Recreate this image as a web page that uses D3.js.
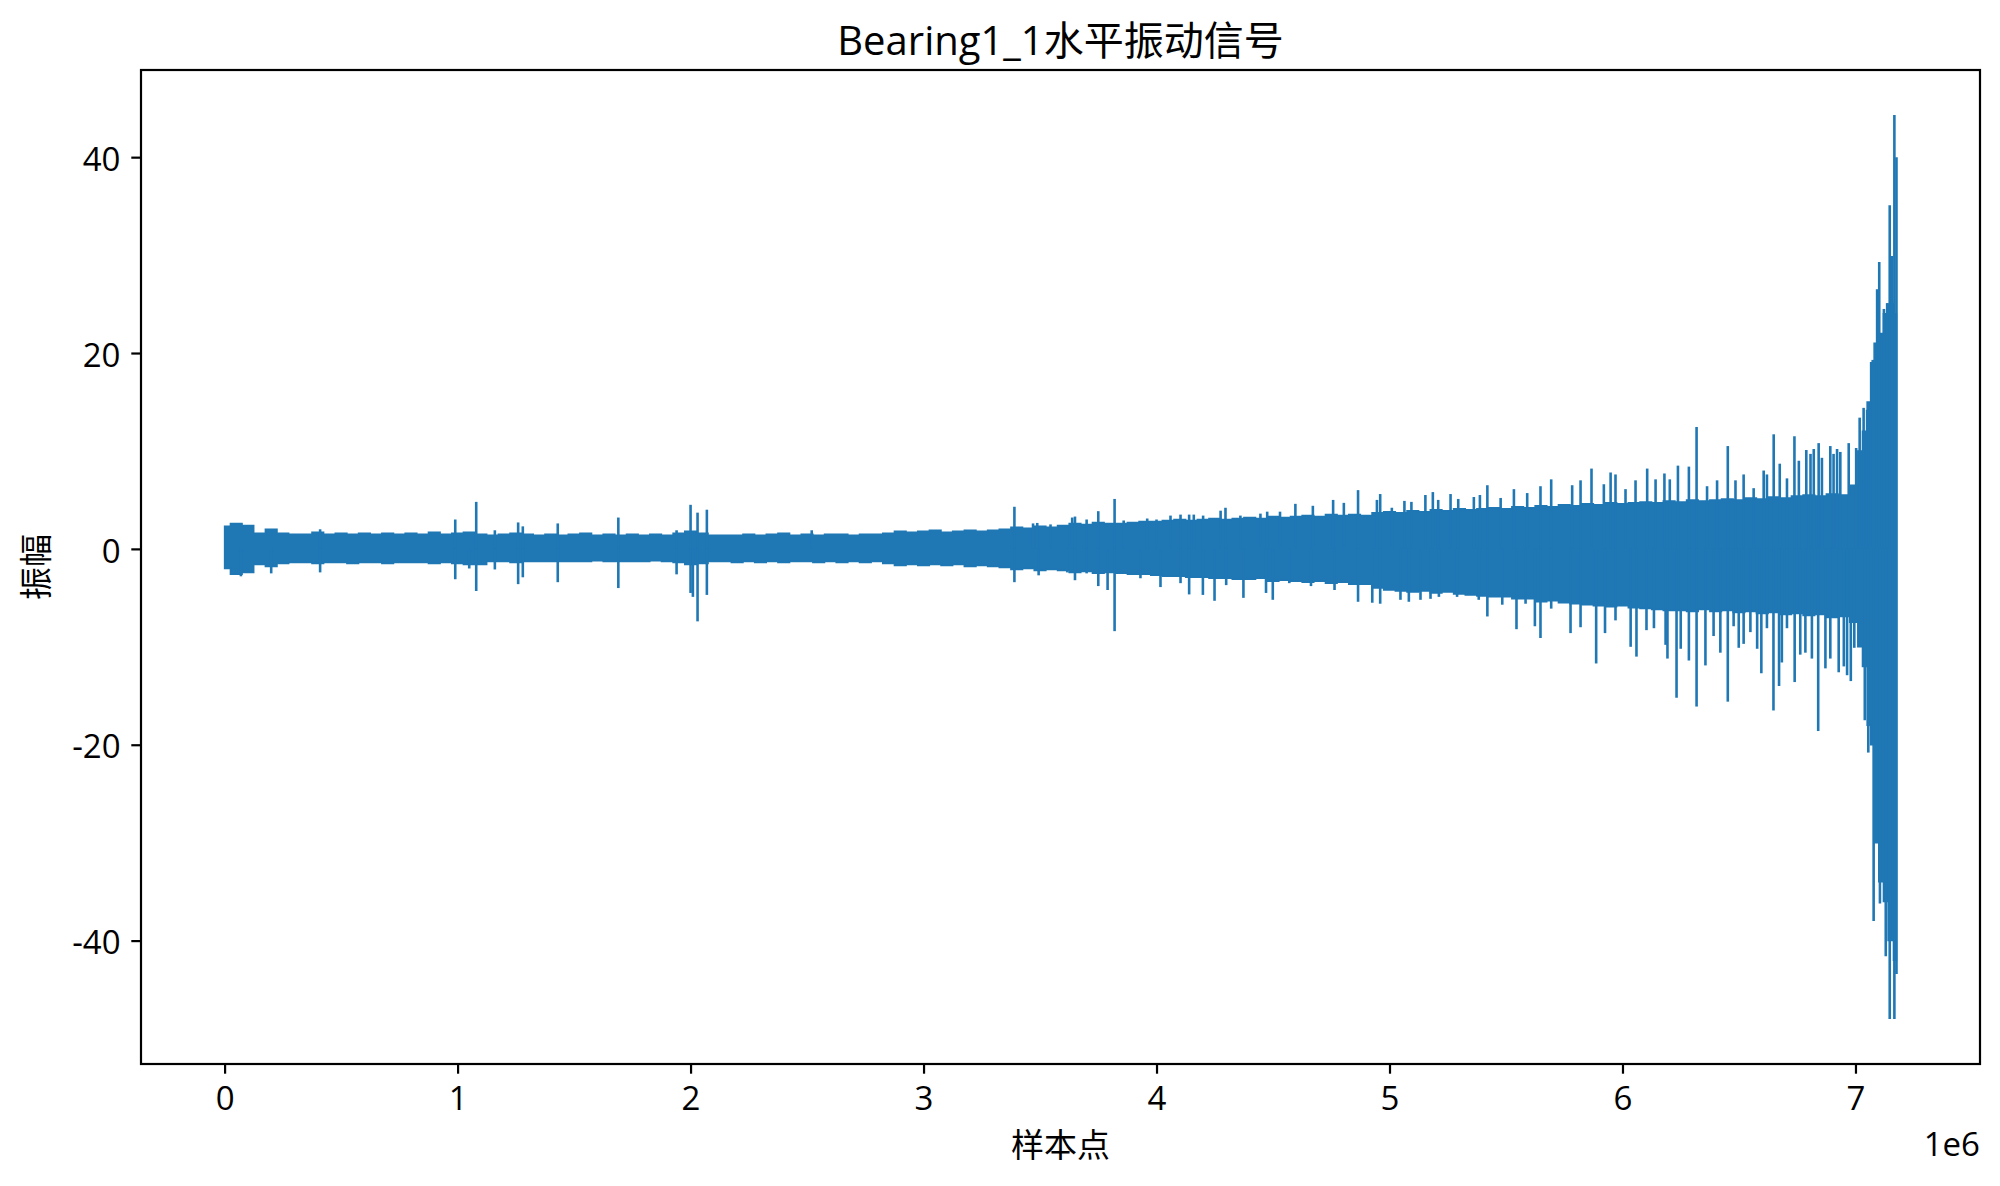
<!DOCTYPE html>
<html>
<head>
<meta charset="utf-8">
<script src="https://cdn.jsdelivr.net/npm/d3@7"></script>
<style>
  html, body { margin: 0; padding: 0; background: #fff; }
  svg { display: block; }
  text { font-family: "Open Sans", "Noto Sans CJK SC", sans-serif; fill: #000; }
</style>
</head>
<body>
<svg id="chart"></svg>
<script>
// sample index in units of 1e6, dense band envelope (upper / lower)
const envX = [
  0.00, 0.05, 0.10, 0.15, 0.20, 0.25, 0.30, 0.35, 0.40, 0.45,
  0.50, 0.55, 0.60, 0.65, 0.70, 0.75, 0.80, 0.85, 0.90, 0.95,
  1.00, 1.05, 1.10, 1.15, 1.20, 1.25, 1.30, 1.35, 1.40, 1.45,
  1.50, 1.55, 1.60, 1.65, 1.70, 1.75, 1.80, 1.85, 1.90, 1.95,
  2.00, 2.05, 2.10, 2.15, 2.20, 2.25, 2.30, 2.35, 2.40, 2.45,
  2.50, 2.55, 2.60, 2.65, 2.70, 2.75, 2.80, 2.85, 2.90, 2.95,
  3.00, 3.05, 3.10, 3.15, 3.20, 3.25, 3.30, 3.35, 3.40, 3.45,
  3.50, 3.55, 3.60, 3.65, 3.70, 3.75, 3.80, 3.85, 3.90, 3.95,
  4.00, 4.05, 4.10, 4.15, 4.20, 4.25, 4.30, 4.35, 4.40, 4.45,
  4.50, 4.55, 4.60, 4.65, 4.70, 4.75, 4.80, 4.85, 4.90, 4.95,
  5.00, 5.05, 5.10, 5.15, 5.20, 5.25, 5.30, 5.35, 5.40, 5.45,
  5.50, 5.55, 5.60, 5.65, 5.70, 5.75, 5.80, 5.85, 5.90, 5.95,
  6.00, 6.05, 6.10, 6.15, 6.20, 6.25, 6.30, 6.35, 6.40, 6.45,
  6.50, 6.55, 6.60, 6.65, 6.70, 6.75, 6.80, 6.85, 6.90, 6.95,
  7.00, 7.02, 7.04, 7.06, 7.07, 7.09, 7.11, 7.13, 7.15, 7.176
];
const envHigh = [
  2.3, 2.6, 2.4, 1.6, 2.0, 1.6, 1.5, 1.5, 1.7, 1.5,
  1.6, 1.5, 1.6, 1.5, 1.6, 1.5, 1.6, 1.5, 1.7, 1.5,
  1.6, 1.7, 1.5, 1.4, 1.5, 1.6, 1.5, 1.4, 1.5, 1.4,
  1.5, 1.6, 1.4, 1.5, 1.4, 1.5, 1.4, 1.5, 1.4, 1.6,
  1.8, 1.6, 1.4, 1.4, 1.4, 1.5, 1.4, 1.5, 1.6, 1.4,
  1.5, 1.4, 1.5, 1.5, 1.4, 1.5, 1.5, 1.6, 1.8, 1.7,
  1.8, 1.9, 1.7, 1.8, 1.9, 1.8, 1.9, 2.0, 2.2, 2.1,
  2.3, 2.2, 2.4, 2.6, 2.5, 2.7, 2.6, 2.6, 2.7, 2.8,
  2.8, 2.9, 3.0, 2.9, 3.0, 3.1, 3.0, 3.1, 3.2, 3.1,
  3.3, 3.2, 3.3, 3.4, 3.3, 3.5, 3.4, 3.5, 3.4, 3.7,
  3.8, 3.7, 3.9, 3.8, 4.0, 3.9, 4.1, 4.0, 4.1, 4.2,
  4.1, 4.3, 4.2, 4.4, 4.3, 4.5, 4.4, 4.6, 4.5, 4.7,
  4.6, 4.7, 4.8, 4.7, 4.9, 4.8, 5.0, 4.9, 5.0, 5.1,
  5.0, 5.2, 5.1, 5.3, 5.2, 5.4, 5.5, 5.4, 5.6, 5.5,
  6.5, 10.0, 12.0, 15.0, 19.0, 21.0, 22.0, 24.0, 25.0, 24.0
];
const envLow = [
  -2.0, -2.6, -2.4, -1.6, -1.8, -1.5, -1.4, -1.4, -1.5, -1.4,
  -1.4, -1.5, -1.4, -1.4, -1.5, -1.4, -1.4, -1.4, -1.5, -1.4,
  -1.5, -1.6, -1.6, -1.3, -1.3, -1.4, -1.3, -1.3, -1.3, -1.3,
  -1.3, -1.3, -1.2, -1.3, -1.3, -1.3, -1.3, -1.2, -1.3, -1.4,
  -1.6, -1.5, -1.3, -1.3, -1.4, -1.3, -1.4, -1.3, -1.4, -1.3,
  -1.3, -1.4, -1.3, -1.4, -1.3, -1.4, -1.3, -1.5, -1.7, -1.6,
  -1.7, -1.6, -1.7, -1.6, -1.8, -1.7, -1.8, -1.9, -2.1, -2.0,
  -2.2, -2.1, -2.2, -2.4, -2.3, -2.5, -2.4, -2.5, -2.6, -2.6,
  -2.7, -2.8, -2.8, -2.9, -2.9, -3.0, -3.0, -3.1, -3.1, -3.0,
  -3.3, -3.2, -3.3, -3.4, -3.3, -3.5, -3.4, -3.6, -3.6, -4.0,
  -4.2, -4.3, -4.4, -4.3, -4.5, -4.4, -4.6, -4.7, -4.8, -4.9,
  -4.9, -5.1, -5.1, -5.4, -5.3, -5.5, -5.6, -5.7, -5.8, -5.9,
  -5.8, -6.0, -6.1, -6.2, -6.3, -6.3, -6.4, -6.2, -6.4, -6.3,
  -6.5, -6.4, -6.6, -6.5, -6.7, -6.6, -6.8, -6.7, -7.0, -6.9,
  -7.5, -10.0, -12.0, -18.0, -20.0, -30.0, -34.0, -36.0, -40.0, -42.0
];

// peaks sticking out of the band (position in 1e6, amplitude)
const spikeX = [
  0.07, 0.20, 0.41, 0.41, 0.99, 0.99, 1.05, 1.08, 1.08, 1.16, 1.16,
  1.26, 1.26, 1.28, 1.28, 1.43, 1.43, 1.69, 1.69, 1.94, 1.94,
  2.00, 2.00, 2.01, 2.03, 2.03, 2.07, 2.07, 2.52,
  3.39, 3.39, 3.47, 3.488, 3.494, 3.545, 3.617, 3.617, 3.638, 3.65, 3.65,
  3.70, 3.70, 3.75, 3.75, 3.79, 3.82, 3.82, 3.859, 3.931, 3.96, 4.00,
  4.017, 4.06, 4.103, 4.103, 4.14, 4.14, 4.16,
  4.199, 4.20, 4.249, 4.275, 4.296, 4.299, 4.36, 4.373, 4.446, 4.47, 4.475,
  4.499, 4.53, 4.57, 4.596, 4.663, 4.671, 4.758, 4.764, 4.804, 4.865, 4.865,
  4.926, 4.946, 4.96, 4.96, 5.01, 5.047, 5.064, 5.083, 5.094, 5.133, 5.154,
  5.176, 5.186, 5.209, 5.212, 5.262, 5.29, 5.295, 5.362, 5.383, 5.388,
  5.42, 5.42, 5.477, 5.484, 5.534, 5.545, 5.584, 5.591, 5.624, 5.648, 5.648,
  5.694, 5.694, 5.777, 5.784, 5.82, 5.82, 5.867, 5.887, 5.92, 5.925, 5.949,
  5.97, 5.97, 6.013, 6.035, 6.056, 6.06, 6.103, 6.106, 6.135, 6.142, 6.18,
  6.185, 6.193, 6.203, 6.232, 6.238, 6.25, 6.285, 6.285, 6.318, 6.318,
  6.356, 6.363, 6.391, 6.406, 6.42, 6.452, 6.452, 6.477, 6.485, 6.499,
  6.52, 6.52, 6.549, 6.563, 6.578, 6.596, 6.606, 6.62, 6.62, 6.648, 6.649,
  6.672, 6.675, 6.684, 6.706, 6.706, 6.738, 6.739, 6.757, 6.763, 6.785,
  6.789, 6.807, 6.813, 6.821, 6.84, 6.842, 6.856, 6.871, 6.892, 6.892,
  6.906, 6.921, 6.928, 6.935, 6.95, 6.964, 6.971, 6.98, 6.995, 7.003,
  7.018, 7.035, 7.04, 7.05, 7.055, 7.056, 7.074, 7.078, 7.093, 7.102,
  7.105, 7.122, 7.13, 7.136, 7.147, 7.147, 7.157, 7.167, 7.167, 7.176, 7.176
];
const spikeY = [
  -2.8, -2.5, 2.0, -2.4, 3.0, -3.1, -2.0, 4.8, -4.3, 1.9, -2.1,
  2.7, -3.6, 2.3, -2.9, 2.6, -3.4, 3.2, -4.0, 1.9, -2.6,
  4.5, -4.5, -4.9, 3.7, -7.4, 4.0, -4.7, 1.9,
  4.3, -3.4, 2.6, 2.65, -2.7, 2.5, 2.2, -2.4, 3.2, 3.3, -3.2,
  3.0, -2.5, 3.85, -3.8, -4.2, 5.1, -8.4, 2.9, -3.0, 3.1, 3.0,
  -3.9, 3.4, 3.5, -3.5, 3.5, -4.65, 3.5,
  -4.7, 3.4, -5.3, 3.9, 4.2, -3.7, 3.4, -5.0, 3.6, -4.5, 3.8,
  -5.2, 3.8, -3.5, 4.6, -3.8, 4.4, 5.0, -4.2, 4.7, 6.0, -5.4,
  -5.5, 5.0, 5.6, -5.6, 4.2, -5.2, 4.9, -5.4, 4.8, -5.2, 5.5,
  -5.1, 5.8, 5.0, -4.9, 5.6, -4.9, 5.1, 5.3, -5.2, 5.5,
  6.5, -6.9, 5.2, -5.7, 6.1, -8.2, -5.6, 5.7, -7.9, 6.4, -9.1,
  7.1, -6.1, -8.6, 6.5, 7.0, -8.0, 8.2, -11.7, 6.6, -8.6, 7.8,
  7.6, -7.3, 6.1, -10.0, 7.0, -11.0, -8.3, 8.2, -8.1, 7.1, 7.7,
  -9.8, -11.2, 7.1, -15.2, 8.5, -10.2, 8.4, -11.4, 12.45, -16.1,
  -11.9, 6.4, -8.9, 7.0, -10.6, 10.5, -15.6, -7.9, 7.0, -10.1,
  7.6, -9.7, -8.5, 6.2, -10.2, -12.7, 8.0, 7.6, -8.1, -16.5, 11.7,
  -14.0, 8.7, -11.6, 7.2, -8.1, 11.5, -13.6, 9.0, -10.8, -10.6,
  10.1, 9.7, -11.2, 10.2, -18.6, 10.8, 9.3, -12.2, 10.5, -11.2,
  9.7, 10.2, -12.6, 9.9, -12.0, -12.9, 10.8, -13.5, -10.1, 10.3,
  13.4, 14.4, -17.5, 14.2, -20.8, 13.8, 19.3, -38.0, 26.5, 29.3,
  -36.2, 24.5, -41.6, 25.1, 35.1, -48.0, 29.9, 44.3, -48.0, 40.0, -43.4
];

const xTicks = [0, 1, 2, 3, 4, 5, 6, 7];
const yTicks = [-40, -20, 0, 20, 40];
const titleText = "Bearing1_1水平振动信号";
const xLabel = "样本点";
const yLabel = "振幅";
const offsetText = "1e6";

const W = 2000, H = 1186;
const mLeft = 141, mRight = 1980, mTop = 70, mBottom = 1064;
const blue = "#1f77b4";

const svg = d3.select("#chart").attr("width", W).attr("height", H);

const x = d3.scaleLinear().domain([-0.3588, 7.5345]).range([mLeft, mRight]);
const y = d3.scaleLinear().domain([-52.6, 48.9]).range([mBottom, mTop]);

const band = envX.map((v, i) => ({ x: v, hi: envHigh[i], lo: envLow[i] }));
const spikes = spikeX.map((v, i) => ({ x: v, y: spikeY[i] }));

svg.append("defs").append("clipPath").attr("id", "plotclip")
  .append("rect")
  .attr("x", mLeft).attr("y", mTop)
  .attr("width", mRight - mLeft).attr("height", mBottom - mTop);

const plot = svg.append("g").attr("clip-path", "url(#plotclip)");

plot.append("path")
  .datum(band)
  .attr("fill", blue)
  .attr("stroke", blue)
  .attr("stroke-width", 1.5)
  .attr("d", d3.area()
    .curve(d3.curveStep)
    .x((d) => x(d.x))
    .y0((d) => y(d.lo))
    .y1((d) => y(d.hi)));

plot.selectAll("line.spike")
  .data(spikes)
  .join("line")
  .attr("class", "spike")
  .attr("x1", (d) => x(d.x))
  .attr("x2", (d) => x(d.x))
  .attr("y1", y(0))
  .attr("y2", (d) => y(d.y))
  .attr("stroke", blue)
  .attr("stroke-width", 2.6);

// axes
const fmt = (d) => String(d);

const gx = svg.append("g")
  .attr("transform", `translate(0,${mBottom})`)
  .call(d3.axisBottom(x).tickValues(xTicks).tickFormat(fmt).tickSize(9.7).tickPadding(13));
const gy = svg.append("g")
  .attr("transform", `translate(${mLeft},0)`)
  .call(d3.axisLeft(y).tickValues(yTicks).tickFormat(fmt).tickSize(9.7).tickPadding(10.8));

[gx, gy].forEach((g) => {
  g.select(".domain").remove();
  g.selectAll(".tick line").attr("stroke", "#000").attr("stroke-width", 2.2);
  g.selectAll(".tick text")
    .attr("font-size", 33)
    .style("font-family", '"Open Sans", "Noto Sans CJK SC", sans-serif')
    .attr("fill", "#000");
});
gy.selectAll(".tick text").attr("dy", "0.4em");

// spines
svg.append("rect")
  .attr("x", mLeft).attr("y", mTop)
  .attr("width", mRight - mLeft).attr("height", mBottom - mTop)
  .attr("fill", "none")
  .attr("stroke", "#000")
  .attr("stroke-width", 2.2);

svg.append("text")
  .attr("x", (mLeft + mRight) / 2).attr("y", 55)
  .attr("text-anchor", "middle")
  .attr("font-size", 40)
  .text(titleText);

svg.append("text")
  .attr("x", (mLeft + mRight) / 2).attr("y", 1157)
  .attr("text-anchor", "middle")
  .attr("font-size", 33)
  .text(xLabel);

svg.append("text")
  .attr("transform", `translate(48,${(mTop + mBottom) / 2}) rotate(-90)`)
  .attr("text-anchor", "middle")
  .attr("font-size", 33)
  .text(yLabel);

svg.append("text")
  .attr("x", mRight).attr("y", 1156)
  .attr("text-anchor", "end")
  .attr("font-size", 33)
  .text(offsetText);
</script>
</body>
</html>
